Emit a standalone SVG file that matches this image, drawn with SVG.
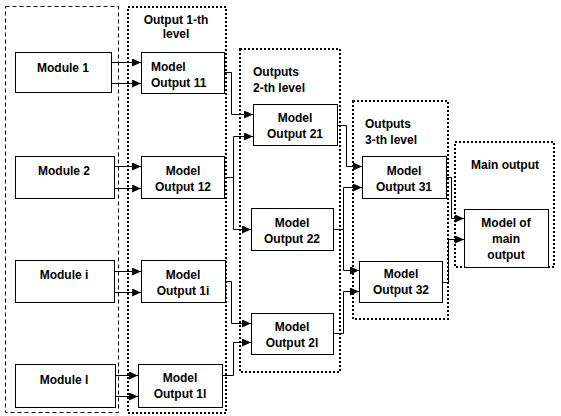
<svg xmlns="http://www.w3.org/2000/svg" width="561" height="416" viewBox="0 0 561 416">
<style>
.bg{fill:#fff}
.dash{fill:none;stroke:#000;stroke-width:1;stroke-dasharray:4 3}
.dot{fill:none;stroke:#000;stroke-width:2;stroke-dasharray:2 2}
.box{fill:#fff;stroke:#000;stroke-width:1}
.c{fill:none;stroke:#000;stroke-width:1;marker-end:url(#ah)}
.l{fill:none;stroke:#000;stroke-width:1}
text{font-family:"Liberation Sans",Arial,sans-serif;font-size:12px;font-weight:bold;fill:#000}
.m{text-anchor:middle}
</style>
<defs>
<marker id="ah" markerUnits="userSpaceOnUse" markerWidth="9" markerHeight="8" refX="9" refY="4" orient="auto">
<path d="M0,0 L9,4 L0,8 z" fill="#000"/>
</marker>
</defs>
<rect class="bg" x="0" y="0" width="561" height="416"/>
<g id="groups">
<rect class="dash" x="5.5" y="6.5" width="113" height="406"/>
<rect class="dot" x="128" y="7" width="98" height="406"/>
<text class="m" x="176" y="24">Output 1-th</text>
<text class="m" x="176" y="38">level</text>
<rect class="dot" x="240" y="49" width="100" height="323"/>
<text x="253" y="76">Outputs</text>
<text x="253" y="92">2-th level</text>
<rect class="dot" x="353" y="101" width="95" height="218"/>
<text x="365" y="128">Outputs</text>
<text x="365" y="144">3-th level</text>
<rect class="dot" x="455" y="142" width="99" height="125"/>
<text class="m" x="505" y="169">Main output</text>
</g>
<g id="connectors">
<path class="c" d="M111,62.5 H141"/>
<path class="c" d="M111,83.5 H141"/>
<path class="c" d="M114,166.5 H141"/>
<path class="c" d="M114,188.5 H141"/>
<path class="c" d="M114,271.5 H141"/>
<path class="c" d="M114,292.5 H141"/>
<path class="c" d="M115,375.5 H138"/>
<path class="c" d="M115,396.5 H138"/>
<path class="c" d="M224,72.5 H231.5 V114.5 H253"/>
<path class="l" d="M224,177.5 H233.5"/>
<path class="c" d="M233.5,177.5 V136.5 H253"/>
<path class="c" d="M233.5,177.5 V229.5 H251"/>
<path class="c" d="M225,281.5 H231.5 V323.5 H251"/>
<path class="c" d="M222,375.5 H233.5 V342.5 H251"/>
<path class="c" d="M337,125.5 H346.5 V166.5 H362"/>
<path class="l" d="M333,229.5 H343.5"/>
<path class="c" d="M343.5,229.5 V187.5 H362"/>
<path class="c" d="M343.5,229.5 V270.5 H359"/>
<path class="c" d="M333,333.5 H343.5 V291.5 H359"/>
<path class="c" d="M446,177.5 H451.5 V218.5 H464"/>
<path class="c" d="M442,282.5 H448.5 V239.5 H464"/>
</g>
<g id="module1"><rect class="box" x="15.5" y="52.5" width="96" height="40"/><text class="m" x="63" y="72">Module 1</text></g>
<g id="module2"><rect class="box" x="15.5" y="156.5" width="99" height="42"/><text class="m" x="64" y="175">Module 2</text></g>
<g id="modulei"><rect class="box" x="15.5" y="260.5" width="99" height="42"/><text class="m" x="64" y="279">Module i</text></g>
<g id="modulel"><rect class="box" x="15.5" y="364.5" width="100" height="43"/><text class="m" x="64" y="384">Module l</text></g>
<g id="out11"><rect class="box" x="141.5" y="52.5" width="83" height="41"/><text x="151" y="71">Model</text><text x="151" y="87">Output 11</text></g>
<g id="out12"><rect class="box" x="141.5" y="156.5" width="83" height="42"/><text class="m" x="183" y="175">Model</text><text class="m" x="183" y="191">Output 12</text></g>
<g id="out1i"><rect class="box" x="141.5" y="260.5" width="84" height="42"/><text class="m" x="183" y="279">Model</text><text class="m" x="183" y="295">Output 1i</text></g>
<g id="out1l"><rect class="box" x="138.5" y="364.5" width="84" height="43"/><text class="m" x="180" y="382">Model</text><text class="m" x="180" y="398">Output 1l</text></g>
<g id="out21"><rect class="box" x="253.5" y="104.5" width="84" height="41"/><text class="m" x="295" y="122">Model</text><text class="m" x="295" y="138">Output  21</text></g>
<g id="out22"><rect class="box" x="251.5" y="208.5" width="82" height="42"/><text class="m" x="292" y="227">Model</text><text class="m" x="292" y="243">Output 22</text></g>
<g id="out2l"><rect class="box" x="251.5" y="313.5" width="82" height="41"/><text class="m" x="292" y="331">Model</text><text class="m" x="292" y="347">Output 2l</text></g>
<g id="out31"><rect class="box" x="362.5" y="156.5" width="84" height="42"/><text class="m" x="404" y="175">Model</text><text class="m" x="404" y="191">Output 31</text></g>
<g id="out32"><rect class="box" x="359.5" y="261.5" width="83" height="41"/><text class="m" x="401" y="278">Model</text><text class="m" x="401" y="294">Output 32</text></g>
<g id="mainout"><rect class="box" x="464.5" y="209.5" width="84" height="58"/><text class="m" x="506" y="227">Model of</text><text class="m" x="506" y="243">main</text><text class="m" x="506" y="259">output</text></g>
</svg>
